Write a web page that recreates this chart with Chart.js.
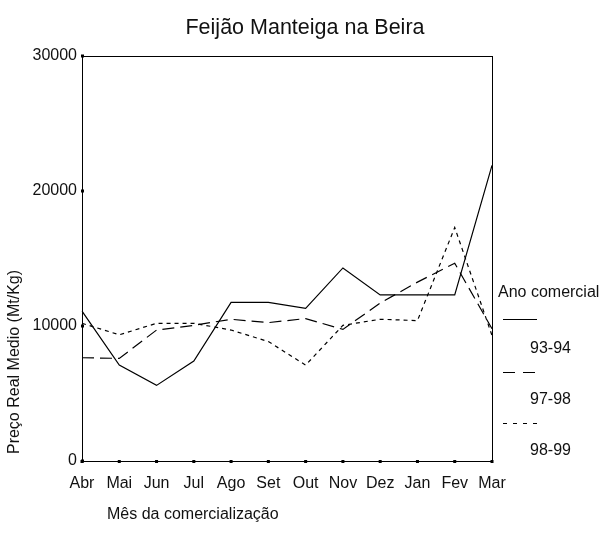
<!DOCTYPE html>
<html>
<head>
<meta charset="utf-8">
<script src="https://cdn.jsdelivr.net/npm/chart.js@4.4.1/dist/chart.umd.min.js"></script>
<style>
  html, body { margin: 0; padding: 0; background: #fff; }
  canvas { display: block; }
</style>
</head>
<body>
<canvas id="myChart" width="604" height="542"></canvas>
<script>
const months = ['Abr', 'Mai', 'Jun', 'Jul', 'Ago', 'Set', 'Out', 'Nov', 'Dez', 'Jan', 'Fev', 'Mar'];
const seriesLabels = ['93-94', '97-98', '98-99'];
const price9394 = [11100, 7100, 5600, 7400, 11750, 11750, 11300, 14300, 12300, 12300, 12300, 21900];
const price9798 = [7650, 7600, 9700, 10050, 10500, 10250, 10550, 9750, 11700, 13250, 14650, 9800];
const price9899 = [10200, 9350, 10200, 10200, 9700, 8850, 7100, 10050, 10500, 10400, 17300, 9300];
const yMin = 0, yMax = 30000, yStep = 10000;

const chartTitle = 'Feijão Manteiga na Beira';
const yTitle = 'Preço Real Medio (Mt/Kg)';
const xTitle = 'Mês da comercialização';
const legendTitle = 'Ano comercial';

const FONT = 'Liberation Sans, Arial, sans-serif';

// frame, tick squares, titles and the legend
const decorations = {
  id: 'decorations',
  afterDraw(chart) {
    const ctx = chart.ctx;
    const a = chart.chartArea;
    const xs = chart.scales.x, ys = chart.scales.y;
    ctx.save();
    ctx.strokeStyle = '#000';
    ctx.lineWidth = 1;
    ctx.strokeRect(a.left + 0.5, a.top + 0.5, a.right - a.left, a.bottom - a.top);

    ctx.fillStyle = '#000';
    xs.ticks.forEach((t, i) => {
      const px = xs.getPixelForTick(i);
      ctx.fillRect(px - 1.5, a.bottom - 1, 3, 3);
    });
    ys.ticks.forEach((t, i) => {
      const py = ys.getPixelForTick(i);
      ctx.fillRect(a.left - 1, py - 1.5, 3, 3);
    });

    ctx.fillStyle = '#111';
    ctx.textBaseline = 'middle';
    ctx.font = '21.5px ' + FONT;
    ctx.textAlign = 'center';
    ctx.fillText(chartTitle, 305, 28);

    ctx.font = '16px ' + FONT;
    ctx.textAlign = 'left';
    ctx.fillText(xTitle, 107, 515);

    ctx.save();
    ctx.translate(15, 362);
    ctx.rotate(-Math.PI / 2);
    ctx.textAlign = 'center';
    ctx.fillText(yTitle, 0, 0);
    ctx.restore();

    // legend
    ctx.textAlign = 'left';
    ctx.fillText(legendTitle, 498, 293);
    const rows = [319, 372, 423];
    const labelsY = [349, 400, 451];
    chart.data.datasets.forEach((ds, i) => {
      ctx.beginPath();
      ctx.setLineDash(ds.legendDash);
      ctx.lineWidth = 1;
      ctx.strokeStyle = '#000';
      ctx.moveTo(503, rows[i] + 0.5);
      ctx.lineTo(537, rows[i] + 0.5);
      ctx.stroke();
      ctx.setLineDash([]);
      ctx.fillText(ds.label, 530, labelsY[i]);
    });
    ctx.restore();
  }
};

const myChart = new Chart('myChart', {
  type: 'line',
  data: {
    labels: months,
    datasets: [
      { label: seriesLabels[0], data: price9394, borderDash: [], legendDash: [] },
      { label: seriesLabels[1], data: price9798, borderDash: [12, 6], legendDash: [12, 8] },
      { label: seriesLabels[2], data: price9899, borderDash: [4, 4], legendDash: [4, 6] }
    ].map(ds => Object.assign(ds, {
      borderColor: '#000',
      borderWidth: 1.2,
      pointRadius: 0,
      tension: 0,
      fill: false
    }))
  },
  options: {
    responsive: false,
    animation: false,
    layout: { padding: { left: 0, top: 56, right: 112, bottom: 0 } },
    plugins: {
      legend: { display: false },
      title: { display: false },
      tooltip: { enabled: false }
    },
    scales: {
      x: {
        offset: false,
        grid: { display: false },
        border: { display: true, color: '#000' },
        ticks: { color: '#111', font: { family: FONT, size: 16 }, padding: 5, maxRotation: 0, autoSkip: false },
        afterFit(scale) { scale.height = 81; }
      },
      y: {
        min: yMin,
        max: yMax,
        grid: { display: false },
        border: { display: true, color: '#000' },
        ticks: {
          stepSize: yStep,
          color: '#111',
          font: { family: FONT, size: 16 },
          padding: -3,
          callback: v => String(v)
        },
        afterFit(scale) { scale.width = 82; }
      }
    }
  },
  plugins: [decorations]
});
</script>
</body>
</html>
